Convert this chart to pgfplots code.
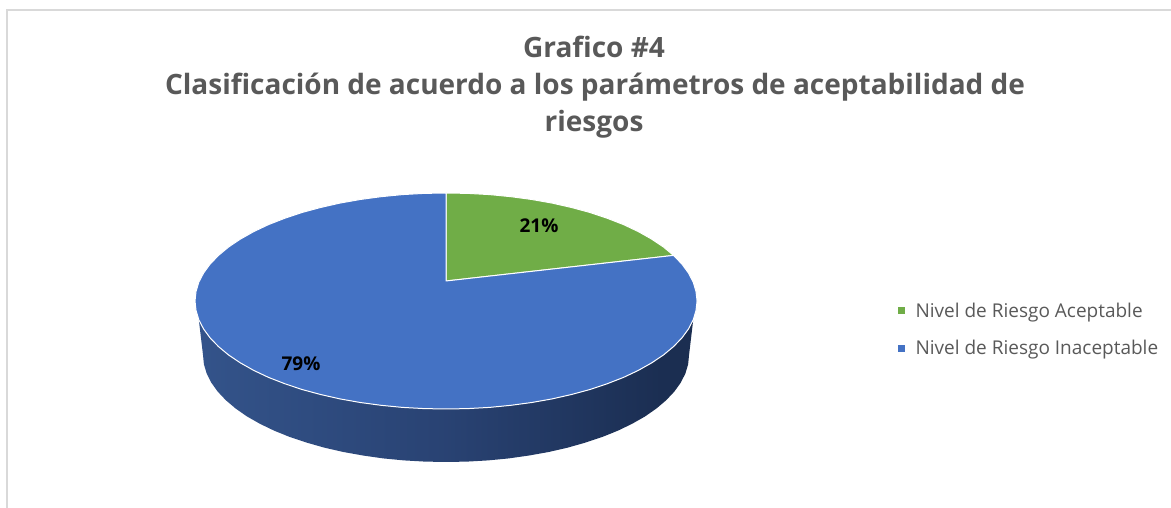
\documentclass[border=0pt]{standalone}
\usepackage{pgfplots}
\pgfplotsset{compat=1.18}
\usepackage{fontspec}
\setmainfont{Open Sans}
\definecolor{pieblue}{HTML}{4472C4}
\definecolor{piegreen}{HTML}{70AD47}
\definecolor{txt}{HTML}{595959}
\definecolor{frame}{HTML}{D9D9D9}
\pgfdeclarehorizontalshading{sidegrad}{100bp}{
 rgb(0bp)=(0.24,0.40,0.66);
 rgb(20bp)=(0.21,0.34,0.56);
 rgb(50bp)=(0.16,0.26,0.45);
 rgb(72bp)=(0.105,0.18,0.32);
 rgb(100bp)=(0.10,0.17,0.30)}
\begin{document}
\begin{tikzpicture}
\useasboundingbox (0,0) rectangle (1171pt,508pt);
\begin{axis}[
 at={(0,0)},anchor=south west,
 scale only axis,width=1171pt,height=508pt,
 xmin=-446,xmax=725,ymin=-207,ymax=301,
 hide axis,clip=false,
 legend style={at={(axis cs:452,0)},anchor=north west,draw=none,fill=none,
   font=\fontsize{19}{23}\selectfont\color{txt},
   row sep=17.5pt,inner sep=0pt,outer sep=0pt},
 legend cell align=left,
 legend image code/.code={\path[#1,draw=none] (0pt,-3.5pt) rectangle (7pt,3.5pt);\path (15pt,0pt);},
]
% frame
\addplot[frame,line width=2pt,forget plot] coordinates {(-439,-207) (-439,291) (725,291)};
% side wall
\addplot[draw=none,shade,shading=sidegrad,forget plot] coordinates {
(-247.2,-18.8)(-242.4,-28.0)(-235.9,-36.9)(-227.5,-45.6)(-217.4,-54.0)(-205.6,-61.9)(-192.3,-69.4)(-177.5,-76.4)(-161.3,-82.7)(-144.0,-88.5)(-125.5,-93.5)(-106.1,-97.9)(-85.8,-101.5)(-65.0,-104.3)(-43.6,-106.4)(-21.9,-107.6)(0,-108)
(21.9,-107.6)(43.6,-106.4)(65.0,-104.3)(85.8,-101.5)(106.1,-97.9)(125.5,-93.5)(144.0,-88.5)(161.3,-82.7)(177.5,-76.4)(192.3,-69.4)(205.6,-61.9)(217.4,-54.0)(227.5,-45.6)(235.9,-36.9)(242.4,-28.0)(247.2,-18.8)
(243,-54)(242.1,-63.3)(239.3,-72.6)(234.7,-81.7)(228.3,-90.6)(220.2,-99.2)(210.4,-107.5)(199.1,-115.4)(186.1,-122.8)(171.8,-129.7)(156.2,-136.0)(139.4,-141.6)(121.5,-146.7)(102.7,-151.0)(83.1,-154.5)(62.9,-157.4)(42.2,-159.4)(21.2,-160.6)(0,-161)
(-21.2,-160.6)(-42.2,-159.4)(-62.9,-157.4)(-83.1,-154.5)(-102.7,-151.0)(-121.5,-146.7)(-139.4,-141.6)(-156.2,-136.0)(-171.8,-129.7)(-186.1,-122.8)(-199.1,-115.4)(-210.4,-107.5)(-220.2,-99.2)(-228.3,-90.6)(-234.7,-81.7)(-239.3,-72.6)(-242.1,-63.3)(-243,-54)
} -- cycle;
% 21 %
\addplot[fill=piegreen,draw=white,line width=1pt,line join=round] coordinates {
(0,20)(0,108)(21.9,107.6)(43.6,106.4)(65.0,104.3)(85.8,101.5)(106.1,97.9)(125.5,93.5)(144.0,88.5)(161.3,82.7)(177.5,76.4)(192.3,69.4)(205.6,61.9)(217.4,54.0)(227.5,45.6)
} -- cycle;
\addlegendentry{Nivel de Riesgo Aceptable}
% 79 %
\addplot[fill=pieblue,draw=white,line width=1pt,line join=round] coordinates {
(0,20)(227.5,45.6)(235.9,36.9)(242.4,28.0)(247.2,18.8)(250.0,9.4)(251,0)
(250.0,-9.4)(247.2,-18.8)(242.4,-28.0)(235.9,-36.9)(227.5,-45.6)(217.4,-54.0)(205.6,-61.9)(192.3,-69.4)(177.5,-76.4)(161.3,-82.7)(144.0,-88.5)(125.5,-93.5)(106.1,-97.9)(85.8,-101.5)(65.0,-104.3)(43.6,-106.4)(21.9,-107.6)(0,-108)
(-21.9,-107.6)(-43.6,-106.4)(-65.0,-104.3)(-85.8,-101.5)(-106.1,-97.9)(-125.5,-93.5)(-144.0,-88.5)(-161.3,-82.7)(-177.5,-76.4)(-192.3,-69.4)(-205.6,-61.9)(-217.4,-54.0)(-227.5,-45.6)(-235.9,-36.9)(-242.4,-28.0)(-247.2,-18.8)(-250.0,-9.4)(-251,0)
(-250.0,9.4)(-247.2,18.8)(-242.4,28.0)(-235.9,36.9)(-227.5,45.6)(-217.4,54.0)(-205.6,61.9)(-192.3,69.4)(-177.5,76.4)(-161.3,82.7)(-144.0,88.5)(-125.5,93.5)(-106.1,97.9)(-85.8,101.5)(-65.0,104.3)(-43.6,106.4)(-21.9,107.6)(0,108)
} -- cycle;
\addlegendentry{Nivel de Riesgo Inaceptable}
% labels
\node[font=\fontsize{19}{22}\bfseries\selectfont,text=black] at (axis cs:93,75) {21\%};
\node[font=\fontsize{19}{22}\bfseries\selectfont,text=black] at (axis cs:-145,-63) {79\%};
% title
\node[anchor=base,font=\fontsize{28}{32}\bfseries\selectfont,text=txt] at (axis cs:148,243) {Grafico \#4};
\node[anchor=base,font=\fontsize{28}{32}\bfseries\selectfont,text=txt] at (axis cs:149,206) {Clasificación de acuerdo a los parámetros de aceptabilidad de};
\node[anchor=base,font=\fontsize{28}{32}\bfseries\selectfont,text=txt] at (axis cs:148,169) {riesgos};
\end{axis}
\end{tikzpicture}
\end{document}
